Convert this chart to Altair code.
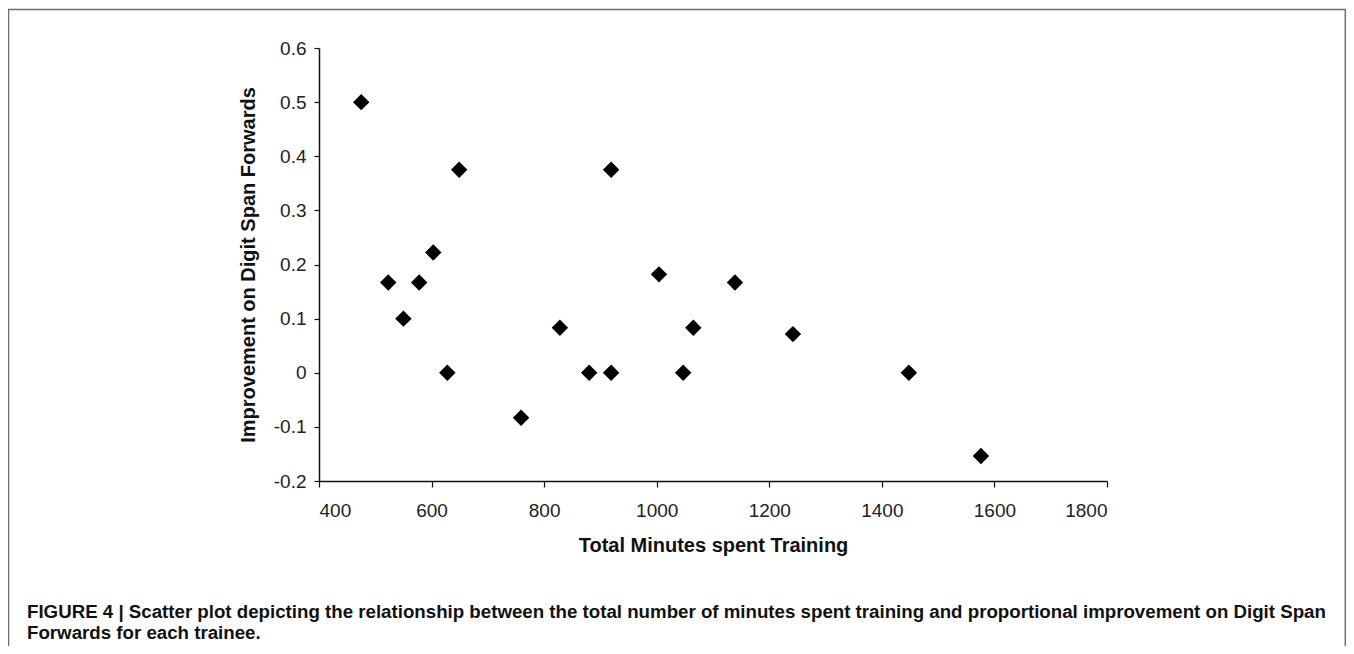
import altair as alt
import pandas as pd

# Data
minutes = [475, 523, 550, 578, 603, 628, 649, 759, 828, 880, 919, 919,
           1004, 1047, 1065, 1139, 1242, 1448, 1576]
improvement = [0.5, 0.1667, 0.1, 0.1667, 0.2222, 0.0, 0.375, -0.0833, 0.0833,
               0.0, 0.0, 0.375, 0.1818, 0.0, 0.0833, 0.1667, 0.0714, 0.0, -0.1538]
x_ticks = [400, 600, 800, 1000, 1200, 1400, 1600, 1800]
y_ticks = [-0.2, -0.1, 0.0, 0.1, 0.2, 0.3, 0.4, 0.5, 0.6]

x_title = "Total Minutes spent Training"
y_title = "Improvement on Digit Span Forwards"
caption_line1 = ("FIGURE 4 | Scatter plot depicting the relationship between the total number "
                 "of minutes spent training and proportional improvement on Digit Span")
caption_line2 = "Forwards for each trainee."

df = pd.DataFrame({"minutes": minutes, "improvement": improvement})

FONT = "Liberation Sans, Arial, Helvetica, sans-serif"

points = alt.Chart(df).mark_point(
    shape="diamond", filled=True, size=270, color="#000000", opacity=1
).encode(
    x=alt.X(
        "minutes:Q",
        scale=alt.Scale(domain=[400, 1800], nice=False, zero=False),
        axis=alt.Axis(
            values=x_ticks, title=x_title, tickSize=6, labelPadding=14,
            titlePadding=15, labelFontSize=19, titleFontSize=20,
            labelExpr="'' + datum.value",
        ),
    ),
    y=alt.Y(
        "improvement:Q",
        scale=alt.Scale(domain=[-0.2, 0.6], nice=False, zero=False),
        axis=alt.Axis(
            values=y_ticks, title=y_title, tickSize=5, labelPadding=8,
            titlePadding=15, labelFontSize=19, titleFontSize=20,
            labelExpr="'' + round(datum.value * 10) / 10",
        ),
    ),
)

frame = alt.Chart(pd.DataFrame({"k": [0]})).mark_rect(
    fill="transparent", stroke="#6e6e6e", strokeWidth=1.5
).encode(
    x=alt.value(-310.5), x2=alt.value(1026.3),
    y=alt.value(-38.5), y2=alt.value(700),
)

cap1 = alt.Chart(pd.DataFrame({"t": [caption_line1]})).mark_text(
    align="left", baseline="middle", font=FONT, fontSize=18.7,
    fontWeight="bold", color="#111111",
).encode(text="t:N", x=alt.value(-292), y=alt.value(564))

cap2 = alt.Chart(pd.DataFrame({"t": [caption_line2]})).mark_text(
    align="left", baseline="middle", font=FONT, fontSize=18.7,
    fontWeight="bold", color="#111111",
).encode(text="t:N", x=alt.value(-292), y=alt.value(585))

chart = alt.layer(frame, points, cap1, cap2).properties(
    width=788,
    height=433,
    autosize=alt.AutoSizeParams(type="none"),
    padding={"left": 311, "top": 40, "right": 239, "bottom": 165},
).configure_view(stroke=None).configure_axis(
    grid=False,
    domainColor="#111111",
    domainWidth=1.5,
    tickColor="#111111",
    tickWidth=1.2,
    labelColor="#222222",
    titleColor="#111111",
    labelFont=FONT,
    titleFont=FONT,
    titleFontWeight="bold",
)

chart.save("out.html", embed_options={"renderer": "svg", "actions": False})
